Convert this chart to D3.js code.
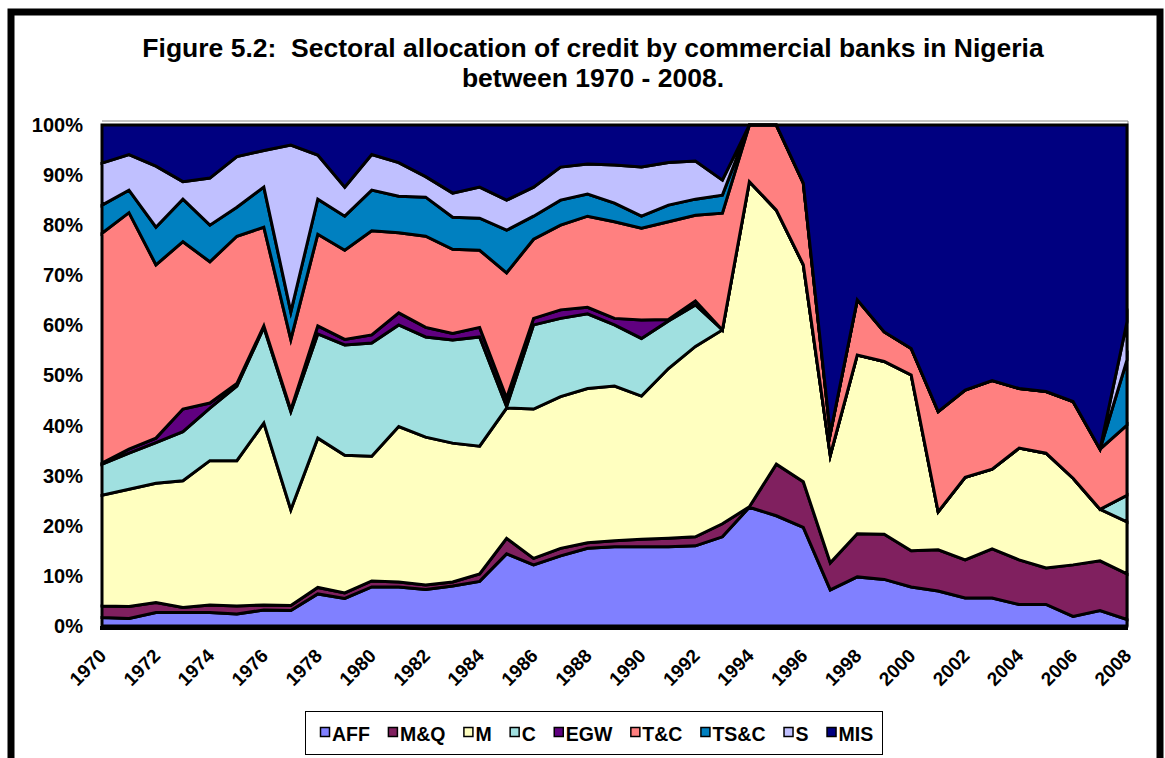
<!DOCTYPE html>
<html>
<head>
<meta charset="utf-8">
<script src="https://cdn.jsdelivr.net/npm/d3@7"></script>
<style>
  html, body { margin: 0; padding: 0; background: #fff; }
  svg { display: block; font-family: "Liberation Sans", Arial, sans-serif; }
</style>
</head>
<body>
<svg id="chart" width="1165" height="758"></svg>
<script>
// Years on the horizontal axis
const years = d3.range(1970, 2009);

// Share of commercial bank credit by sector (per cent of total)
const AFF  = [1.7,1.5,2.7,2.7,2.7,2.4,3.2,3.1,6.4,5.5,7.8,7.8,7.3,8.0,8.9,14.4,12.2,14.0,15.5,15.8,15.8,15.8,16.0,17.8,23.7,22.0,19.7,7.2,9.8,9.3,7.8,7.0,5.6,5.6,4.3,4.3,1.9,3.1,1.3];
const MQ   = [2.3,2.4,2.0,1.0,1.5,1.6,1.0,1.0,1.3,1.1,1.2,1.0,0.9,0.8,1.5,3.1,1.3,1.5,1.1,1.2,1.5,1.7,1.8,2.6,0.1,10.3,9.1,5.4,8.6,9.0,7.2,8.2,7.6,9.8,8.9,7.3,10.3,9.9,9.1];
const M    = [22.1,23.4,23.8,25.3,28.8,29.0,36.3,19.1,29.8,27.5,24.9,31.0,29.5,27.7,25.5,26.0,29.8,30.3,30.8,30.9,28.6,33.9,38.0,38.7,64.9,50.7,43.3,21.5,35.7,34.5,35.1,7.6,16.5,15.9,22.3,22.9,17.3,10.3,10.4];
const C    = [6.2,7.2,8.1,9.8,10.5,14.9,19.1,19.6,20.8,22.0,22.6,20.3,20.0,20.6,21.8,0.3,16.8,15.6,14.9,12.2,11.5,9.5,8.3,0,0,0,0,0,0,0,0,0,0,0,0,0,0,0,5.3];
const EGW  = [0.2,0.8,0.9,4.5,1.0,0.5,0.3,0.3,1.6,1.1,1.6,2.4,1.9,1.3,1.9,1.7,1.3,1.7,1.3,1.3,3.7,0.3,0.8,0,0,0,0,0,0,0,0,0,0,0,0,0,0,0,0];
const TC   = [45.9,47.2,34.6,33.4,28.2,29.4,19.7,14.1,18.3,17.8,20.8,16.0,18.2,16.8,15.4,25.0,15.8,16.9,18.2,19.3,18.3,19.5,17.1,23.3,11.3,17.0,16.3,4.3,11.0,5.9,5.3,20.0,17.4,17.7,11.9,12.3,15.3,12.0,14.0];
const TSC  = [5.6,4.5,7.5,8.5,7.3,5.8,8.0,5.5,7.0,6.8,8.1,7.3,7.8,6.4,6.4,8.5,4.6,5.0,4.4,3.7,2.4,3.3,3.2,3.6,0,0,0,0,0,0,0,0,0,0,0,0,0,0,13.0];
const S    = [8.4,7.1,12.2,3.5,9.4,10.1,7.3,33.3,8.8,5.8,7.1,6.7,4.1,4.8,6.2,6.0,5.8,6.6,6.0,7.6,9.8,8.5,7.6,3.0,0,0,0,0,0,0,0,0,0,0,0,0,0,0,7.6];
const MIS  = [7.6,5.9,8.2,11.3,10.6,6.3,5.1,4.0,6.0,12.4,5.9,7.5,10.3,13.6,12.4,15.0,12.4,8.4,7.8,8.0,8.4,7.5,7.2,11.0,0,0,11.6,61.6,34.9,41.3,44.6,57.2,52.9,51.0,52.6,53.2,55.2,64.7,39.3];

// Series names, stacking order bottom to top
const seriesNames = ["AFF", "M&Q", "M", "C", "EGW", "T&C", "TS&C", "S", "MIS"];
const seriesValues = [AFF, MQ, M, C, EGW, TC, TSC, S, MIS];
const seriesColors = ["#8080FF", "#80205F", "#FFFFC0", "#A0E0E0", "#600080", "#FF8080", "#0080C0", "#C0C0FF", "#000080"];

// Axis labels
const yTicks = d3.range(0, 1.01, 0.1);
const xTickYears = d3.range(1970, 2009, 2);

const titleLines = [
  "Figure 5.2:  Sectoral allocation of credit by commercial banks in Nigeria",
  "between 1970 - 2008."
];

const svg = d3.select("#chart");
const W = 1165, H = 758;

svg.append("rect").attr("width", W).attr("height", H).attr("fill", "#fff");

// Outer chart frame
svg.append("rect")
  .attr("x", 11).attr("y", 12)
  .attr("width", 1149).attr("height", 900)
  .attr("fill", "none").attr("stroke", "#000").attr("stroke-width", 7);

// Title (keeps the double space after the figure number)
const title = svg.append("text")
  .attr("text-anchor", "middle")
  .attr("font-weight", "bold")
  .attr("font-size", 26.5)
  .attr("fill", "#000")
  .style("white-space", "pre");
titleLines.forEach((t, i) => {
  title.append("tspan").attr("x", 593).attr("y", 57 + i * 30).text(t);
});

// Plot area
const plot = { left: 102, right: 1127, top: 125, bottom: 626 };

const x = d3.scaleLinear().domain([1970, 2008]).range([plot.left, plot.right]);
const y = d3.scaleLinear().domain([0, 1]).range([plot.bottom, plot.top]);

const rows = years.map((yr, i) => {
  const r = { year: yr };
  seriesNames.forEach((n, k) => { r[n] = seriesValues[k][i]; });
  return r;
});

const stack = d3.stack()
  .keys(seriesNames)
  .offset(d3.stackOffsetExpand);
const layers = stack(rows);

const area = d3.area()
  .x(d => x(d.data.year))
  .y0(d => y(d[0]))
  .y1(d => y(d[1]));

// Thin plot-area outline and bottom shadow
svg.append("line")
  .attr("x1", plot.left).attr("x2", plot.right + 1)
  .attr("y1", plot.top - 4).attr("y2", plot.top - 4)
  .attr("stroke", "#888").attr("stroke-width", 1);
svg.append("line")
  .attr("x1", plot.right + 1).attr("x2", plot.right + 1)
  .attr("y1", plot.top - 4).attr("y2", plot.bottom)
  .attr("stroke", "#888").attr("stroke-width", 1);
svg.append("rect")
  .attr("x", plot.left - 2).attr("y", plot.bottom)
  .attr("width", plot.right - plot.left + 3).attr("height", 4)
  .attr("fill", "#000");

svg.append("g")
  .selectAll("path")
  .data(layers)
  .join("path")
  .attr("d", area)
  .attr("fill", (d, i) => seriesColors[i])
  .attr("stroke", "#000")
  .attr("stroke-width", 3)
  .attr("stroke-linejoin", "miter")
  .attr("stroke-miterlimit", 10);

// Y axis labels
const yAxis = d3.axisLeft(y)
  .tickValues(yTicks)
  .tickFormat(d3.format(".0%"))
  .tickSize(0)
  .tickPadding(0);
const gy = svg.append("g")
  .attr("transform", `translate(83,0)`)
  .call(yAxis);
gy.select(".domain").remove();
gy.selectAll("text")
  .attr("font-family", "Liberation Sans, Arial, sans-serif")
  .attr("font-size", 20)
  .attr("font-weight", "bold")
  .attr("fill", "#000");

// X axis labels, rotated
const xAxis = d3.axisBottom(x)
  .tickValues(xTickYears)
  .tickFormat(d3.format("d"))
  .tickSize(0)
  .tickPadding(0);
const gx = svg.append("g")
  .attr("transform", `translate(0,${plot.bottom})`)
  .call(xAxis);
gx.select(".domain").remove();
gx.selectAll("text")
  .attr("font-family", "Liberation Sans, Arial, sans-serif")
  .attr("font-size", 19)
  .attr("font-weight", "bold")
  .attr("fill", "#000")
  .attr("text-anchor", "end")
  .attr("dy", 0)
  .attr("y", 0)
  .attr("transform", "translate(5,31) rotate(-45)");

// Legend
const legend = svg.append("g");
legend.append("rect")
  .attr("x", 305.5).attr("y", 711.5)
  .attr("width", 577).attr("height", 43)
  .attr("fill", "#fff").attr("stroke", "#000").attr("stroke-width", 1);

let lx = 320;
seriesNames.forEach((n, i) => {
  const g = legend.append("g").attr("transform", `translate(${lx},733)`);
  g.append("rect")
    .attr("x", 0.5).attr("y", -5.5)
    .attr("width", 9).attr("height", 9)
    .attr("fill", seriesColors[i])
    .attr("stroke", "#000").attr("stroke-width", 1.5);
  const t = g.append("text")
    .attr("x", 12).attr("y", 7.5)
    .attr("font-size", 19.5)
    .attr("font-weight", "bold")
    .attr("fill", "#000")
    .text(n);
  lx += 12 + t.node().getComputedTextLength() + 18;
});
</script>
</body>
</html>
